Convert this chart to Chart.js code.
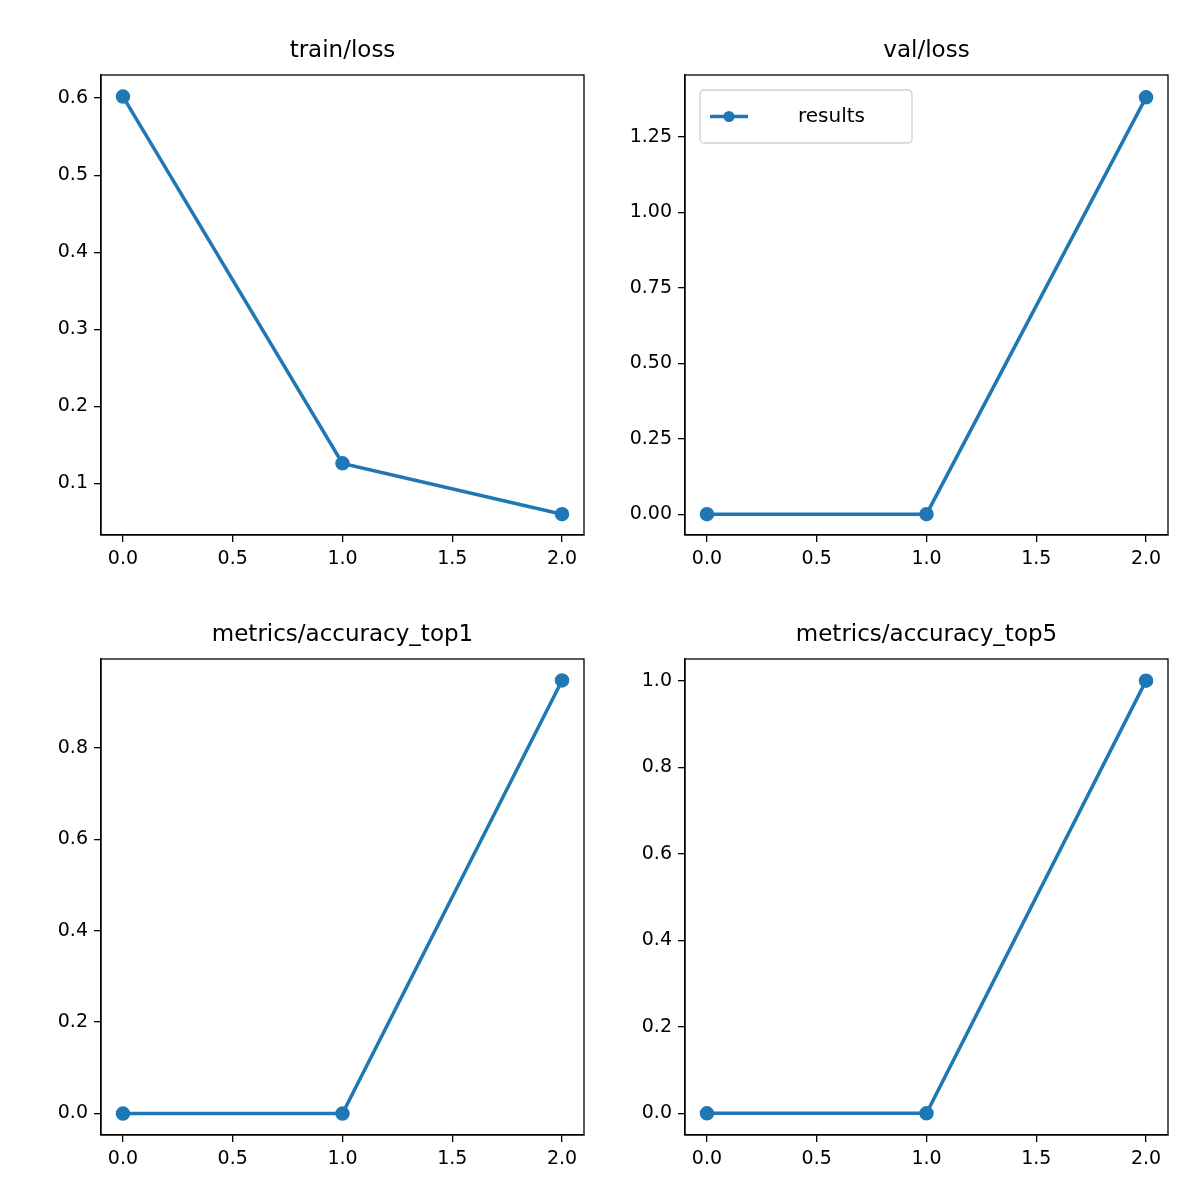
<!DOCTYPE html>
<html><head><meta charset="utf-8">
<script src="https://cdn.jsdelivr.net/npm/chart.js@4"></script>
<style>body{margin:0;background:#fff;width:1200px;height:1200px;position:relative;overflow:hidden}
.p{position:absolute;width:600px;height:600px}</style></head><body>
<div class="p" style="left:0;top:0"><canvas id="c0" width="600" height="600"></canvas></div>
<div class="p" style="left:584px;top:0"><canvas id="c1" width="600" height="600"></canvas></div>
<div class="p" style="left:0;top:584px"><canvas id="c2" width="600" height="600"></canvas></div>
<div class="p" style="left:584px;top:584px"><canvas id="c3" width="600" height="600"></canvas></div>
<script>
const epochs = [0, 1, 2];
const trainLoss = [0.602, 0.126, 0.060];
const valLoss = [0.0, 0.0, 1.382];
const top1 = [0.0, 0.0, 0.947];
const top5 = [0.0, 0.0, 1.0];
const xTicks = [0, 0.5, 1, 1.5, 2];
const titles = ['train/loss', 'val/loss', 'metrics/accuracy_top1', 'metrics/accuracy_top5'];
const panels = [
  {data: trainLoss, ymin: 0.033, ymax: 0.630, yt: [0.1,0.2,0.3,0.4,0.5,0.6], dec: 1},
  {data: valLoss, ymin: -0.069, ymax: 1.456, yt: [0,0.25,0.5,0.75,1,1.25], dec: 2, legend: true},
  {data: top1, ymin: -0.047, ymax: 0.994, yt: [0,0.2,0.4,0.6,0.8], dec: 1},
  {data: top5, ymin: -0.05, ymax: 1.05, yt: [0,0.2,0.4,0.6,0.8,1.0], dec: 1}
];
const C = '#1f77b4', F = 'DejaVu Sans';
panels.forEach((p, i) => {
  const deco = {
    id: 'deco',
    afterDraw(ch) {
      const ctx = ch.ctx, a = ch.chartArea;
      ctx.save();
      ctx.strokeStyle = '#000'; ctx.lineWidth = 1.3;
      ctx.strokeRect(a.left, a.top, a.right - a.left, a.bottom - a.top);
      ctx.fillStyle = '#000'; ctx.font = '23px "' + F + '"';
      ctx.textAlign = 'center'; ctx.textBaseline = 'alphabetic';
      ctx.fillText(titles[i], (a.left + a.right) / 2, a.top - 18);
      if (p.legend) {
        const x = a.left + 15, y = a.top + 15, w = 212, h = 53;
        ctx.strokeStyle = '#d0d0d0'; ctx.lineWidth = 1.3; ctx.fillStyle = 'rgba(255,255,255,0.8)';
        ctx.beginPath(); ctx.roundRect(x, y, w, h, 4); ctx.fill(); ctx.stroke();
        const ly = y + h / 2;
        ctx.strokeStyle = C; ctx.lineWidth = 3.5;
        ctx.beginPath(); ctx.moveTo(x + 10, ly); ctx.lineTo(x + 48, ly); ctx.stroke();
        ctx.fillStyle = C; ctx.beginPath(); ctx.arc(x + 29, ly, 5.5, 0, Math.PI * 2); ctx.fill();
        ctx.fillStyle = '#000'; ctx.font = '20px "' + F + '"'; ctx.textAlign = 'left'; ctx.textBaseline = 'middle';
        ctx.fillText('results', x + 98, ly);
      }
      ctx.restore();
    }
  };
  new Chart(document.getElementById('c' + i), {
    type: 'line',
    data: {datasets: [{label: 'results', data: epochs.map((e, k) => ({x: e, y: p.data[k]})),
      borderColor: C, backgroundColor: C, borderWidth: 3.5, pointRadius: 5.5, pointHoverRadius: 5.5, tension: 0}]},
    options: {
      responsive: false, animation: false, devicePixelRatio: 1,
      layout: {padding: {top: 75, right: 16, left: 0, bottom: i < 2 ? 16 : 0}},
      plugins: {legend: {display: false}, tooltip: {enabled: false}},
      scales: {
        x: {type: 'linear', min: -0.1, max: 2.1,
          afterBuildTicks: s => { s.ticks = xTicks.map(v => ({value: v})); },
          afterFit: s => { s.height = 49; },
          ticks: {color: '#000', font: {family: F, size: 19}, padding: 6, maxRotation: 0, callback: v => v.toFixed(1)},
          grid: {drawOnChartArea: false, drawTicks: true, tickLength: 7, color: '#000', lineWidth: 1.3},
          border: {display: true, color: '#000', width: 1.3}},
        y: {min: p.ymin, max: p.ymax,
          afterBuildTicks: s => { s.ticks = p.yt.map(v => ({value: v})); },
          afterFit: s => { s.width = 101; },
          ticks: {color: '#000', font: {family: F, size: 19}, padding: 6, callback: v => v.toFixed(p.dec)},
          grid: {drawOnChartArea: false, drawTicks: true, tickLength: 7, color: '#000', lineWidth: 1.3},
          border: {display: true, color: '#000', width: 1.3}}
      }
    },
    plugins: [deco]
  });
});
</script></body></html>
